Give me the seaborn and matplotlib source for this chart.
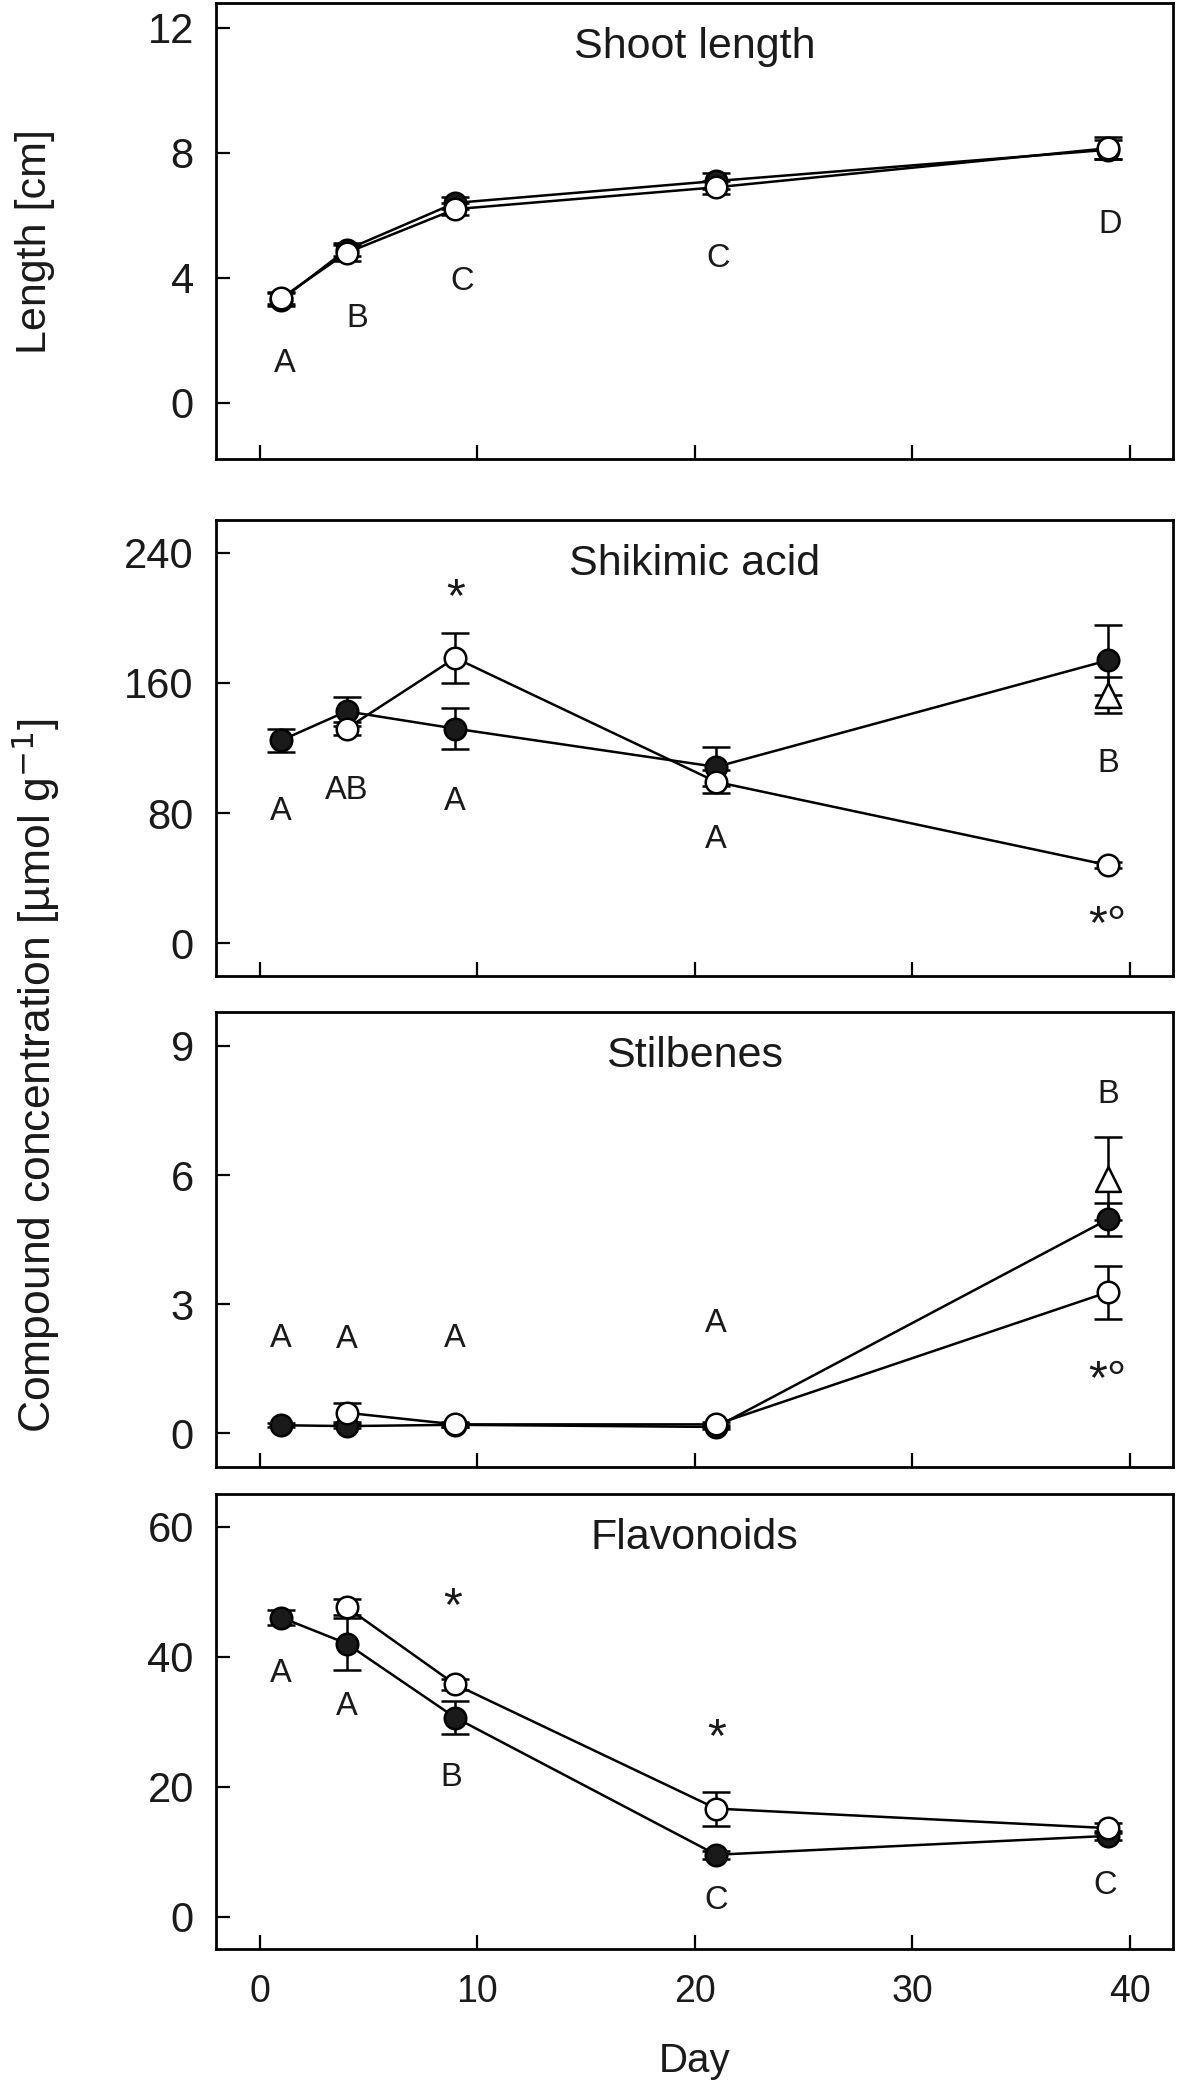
import matplotlib
matplotlib.use("Agg")
import matplotlib.pyplot as plt
import seaborn as sns

# -----------------------------------
# DATA
# -----------------------------------

days = [1, 4, 9, 21, 39]
days_open = [4, 9, 21, 39]

# shoot length [cm]
shoot_filled = [3.3, 4.9, 6.4, 7.1, 8.1]
shoot_filled_err = [0.2, 0.2, 0.2, 0.25, 0.3]
shoot_open = [3.35, 4.8, 6.2, 6.9, 8.15]
shoot_open_err = [0.2, 0.25, 0.2, 0.2, 0.35]

# shikimic acid [umol/g]
shik_filled = [124.7, 142.5, 131.9, 108.4, 173.8]
shik_filled_err = [7, 8.8, 12.7, 12, 21.5]
shik_open = [131.9, 175.3, 99.2, 48.1]
shik_open_err = [4, 15.3, 7, 2]
shik_tri = 152.4
shik_tri_err = 11

# stilbenes
stil_filled = [0.19, 0.17, 0.2, 0.15, 4.97]
stil_filled_err = [0.05, 0.05, 0.05, 0.05, 0.39]
stil_open = [0.48, 0.21, 0.21, 3.28]
stil_open_err = [0.22, 0.05, 0.05, 0.62]
stil_tri = 5.92
stil_tri_err = 0.97

# flavonoids
flav_filled = [46.0, 42.0, 30.6, 9.5, 12.4]
flav_filled_err = [1.2, 4.0, 2.5, 0.6, 0.7]
flav_open = [47.6, 35.7, 16.6, 13.6]
flav_open_err = [1.2, 0.9, 2.6, 0.8]

# significance letters
shoot_txt = ["A", "B", "C", "C", "D"]
shoot_txt_x = [1.15, 4.5, 9.3, 21.1, 39.1]
shoot_txt_y = [1.26, 2.7, 3.87, 4.62, 5.72]

shik_txt = ["A", "AB", "A", "A", "B", "*", "*°"]
shik_txt_x = [1, 4, 9, 21, 39, 9, 39]
shik_txt_y = [80.8, 94, 87, 63.8, 110.4, 220.9, 19.4]

stil_txt = ["A", "A", "A", "A", "B", "*°"]
stil_txt_x = [1, 4, 9, 21, 39, 39]
stil_txt_y = [2.21, 2.17, 2.21, 2.56, 7.87, 1.55]

flav_txt = ["A", "A", "B", "C", "C", "*", "*"]
flav_txt_x = [1, 4, 8.8, 21, 38.9, 8.9, 21]
flav_txt_y = [37.4, 32.3, 21.4, 2.4, 4.8, 49.8, 29.6]

# -----------------------------------
# STYLE
# -----------------------------------

sns.set_style("ticks")
plt.rcParams["font.family"] = ["Liberation Sans", "DejaVu Sans"]
plt.rcParams["text.color"] = "#1a1a1a"

fig = plt.figure(figsize=(11.81, 20.87), dpi=100)

left, width = 216 / 1181, 957 / 1181
H = 2087
boxes = [(3, 459), (520, 976), (1011.5, 1467), (1494, 1949)]
axes = [fig.add_axes([left, 1 - b / H, width, (b - t) / H]) for t, b in boxes]

panels = [
    ("Shoot length", days, shoot_filled, shoot_filled_err, days, shoot_open, shoot_open_err,
     None, None, (-1.8, 12.8), [0, 4, 8, 12], shoot_txt, shoot_txt_x, shoot_txt_y),
    ("Shikimic acid", days, shik_filled, shik_filled_err, days_open, shik_open, shik_open_err,
     shik_tri, shik_tri_err, (-20, 260), [0, 80, 160, 240], shik_txt, shik_txt_x, shik_txt_y),
    ("Stilbenes", days, stil_filled, stil_filled_err, days_open, stil_open, stil_open_err,
     stil_tri, stil_tri_err, (-0.78, 9.8), [0, 3, 6, 9], stil_txt, stil_txt_x, stil_txt_y),
    ("Flavonoids", days, flav_filled, flav_filled_err, days_open, flav_open, flav_open_err,
     None, None, (-5, 65), [0, 20, 40, 60], flav_txt, flav_txt_x, flav_txt_y),
]

lw = 1.8
ms = 15.5
cap = 10

for i, (ax, p) in enumerate(zip(axes, panels)):
    (title, xf, yf, ef, xo, yo, eo, tri, tri_err, ylim, yticks, txt, tx, ty) = p

    # error bars first, markers over them
    ax.errorbar(xf, yf, yerr=ef, fmt="none", ecolor="black", elinewidth=lw,
                capsize=cap, capthick=lw, zorder=2)
    ax.errorbar(xo, yo, yerr=eo, fmt="none", ecolor="black", elinewidth=lw,
                capsize=cap, capthick=lw, zorder=2)
    if tri is not None:
        ax.errorbar([39], [tri], yerr=[tri_err], fmt="none", ecolor="black",
                    elinewidth=lw, capsize=cap, capthick=lw, zorder=2)

    sns.lineplot(x=xf, y=yf, ax=ax, color="black", lw=lw, marker="o", markersize=ms,
                 markerfacecolor="#1a1a1a", markeredgecolor="black",
                 markeredgewidth=lw, sort=False, zorder=4)
    sns.lineplot(x=xo, y=yo, ax=ax, color="black", lw=lw, marker="o", markersize=ms,
                 markerfacecolor="white", markeredgecolor="black",
                 markeredgewidth=lw, sort=False, zorder=5)
    if tri is not None:
        sns.scatterplot(x=[39], y=[tri], ax=ax, marker="^", s=320, facecolor="white",
                        edgecolor="black", linewidth=lw, zorder=3)

    for s, x, y in zip(txt, tx, ty):
        if s.startswith("*"):
            fs = 35
            # asterisk ink sits high in the glyph box, pull it down to its centre
            ax.annotate(s, (x, y), xytext=(0, -0.3 * fs), textcoords="offset points",
                        ha="center", va="center", fontsize=fs)
        else:
            ax.text(x, y, s, ha="center", va="center", fontsize=23.5)

    ax.text(0.5, 0.879, title, transform=ax.transAxes, ha="center", va="baseline",
            fontsize=31)

    ax.set_xlim(-2, 42)
    ax.set_ylim(*ylim)
    ax.set_yticks(yticks)
    ax.set_xticks([0, 10, 20, 30, 40])
    ax.set_xlabel("")
    ax.set_ylabel("")
    ax.tick_params(direction="in", length=10, width=1.6, colors="black",
                   labelcolor="#1a1a1a")
    ax.tick_params(axis="y", pad=16, labelsize=30)
    ax.tick_params(axis="x", pad=18, labelsize=27)
    if i < 3:
        ax.tick_params(axis="x", labelbottom=False)
    for sp in ax.spines.values():
        sp.set_visible(True)
        sp.set_linewidth(2)
        sp.set_color("black")

fig.text(35 / 1181, 1 - 242 / H, "Length [cm]", rotation=90, ha="center",
         va="center", fontsize=31)
fig.text(36 / 1181, 1 - 1075 / H, r"Compound concentration [µmol g$^{-1}$]",
         rotation=90, ha="center", va="center", fontsize=32)
fig.text((216 + 478.5) / 1181, 1 - 2061 / H, "Day", ha="center", va="center",
         fontsize=29)

fig.savefig("out.png", dpi=100)
